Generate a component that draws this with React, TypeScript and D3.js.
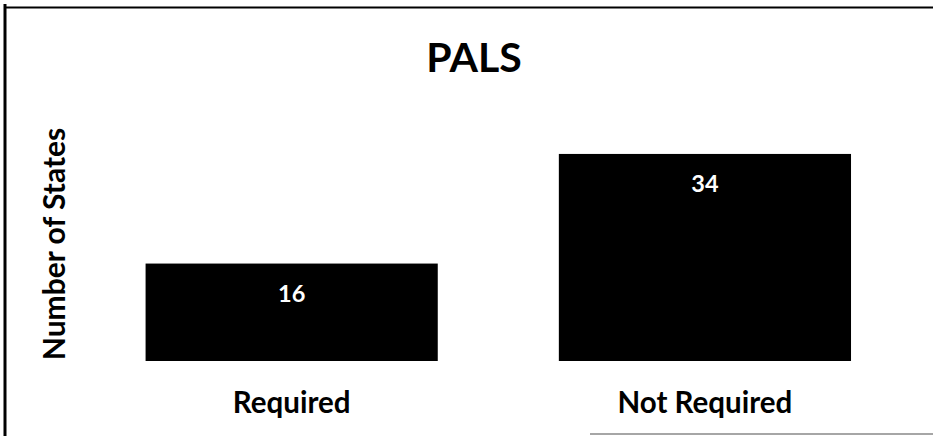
import React from "react";
import * as d3 from "d3";

const categories: string[] = ["Required", "Not Required"];
const values: number[] = [16, 34];
const title = "PALS";
const yAxisLabel = "Number of States";

const W = 933;
const H = 436;
const FONT = "Lato, 'Open Sans', sans-serif";

export default function App() {
  const x = d3.scaleBand<string>().domain(categories).range([21.6, 975]).paddingInner(0.293).paddingOuter(0.3);
  const y = d3.scaleLinear().domain([0, 40]).range([361, 117.4]);

  return (
    <svg width={W} height={H} style={{ position: "absolute", left: 0, top: 0, background: "#fff" }}>
      <rect x={0} y={0} width={W} height={H} fill="#fff" />
      {/* frame */}
      <line x1={5} y1={4} x2={5} y2={H} stroke="#000" strokeWidth={3} />
      <line x1={4} y1={7.5} x2={W} y2={7.5} stroke="#000" strokeWidth={2} />
      <line x1={590} y1={434} x2={W} y2={434} stroke="#888" strokeWidth={1.5} />
      {/* title */}
      <text x={474} y={72} textAnchor="middle" fontFamily={FONT} fontWeight={700} fontSize={41} fill="#000">
        {title}
      </text>
      {/* y axis label */}
      <text
        transform={`translate(64.5,${244}) rotate(-90)`}
        textAnchor="middle"
        fontFamily={FONT}
        fontWeight={700}
        fontSize={30}
        fill="#000"
      >
        {yAxisLabel}
      </text>
      {/* bars */}
      {categories.map((c, i) => {
        const bx = x(c)!;
        const bw = x.bandwidth();
        return (
          <g key={c}>
            <rect x={bx} y={y(values[i])} width={bw} height={y(0) - y(values[i])} fill="#000" />
            <text
              x={bx + bw / 2}
              y={y(values[i]) + 38}
              textAnchor="middle"
              fontFamily={FONT}
              fontWeight={700}
              fontSize={23.5}
              fill="#fff"
            >
              {values[i]}
            </text>
            <text
              x={bx + bw / 2}
              y={413}
              textAnchor="middle"
              fontFamily={FONT}
              fontWeight={700}
              fontSize={29.5}
              fill="#000"
            >
              {c}
            </text>
          </g>
        );
      })}
    </svg>
  );
}
